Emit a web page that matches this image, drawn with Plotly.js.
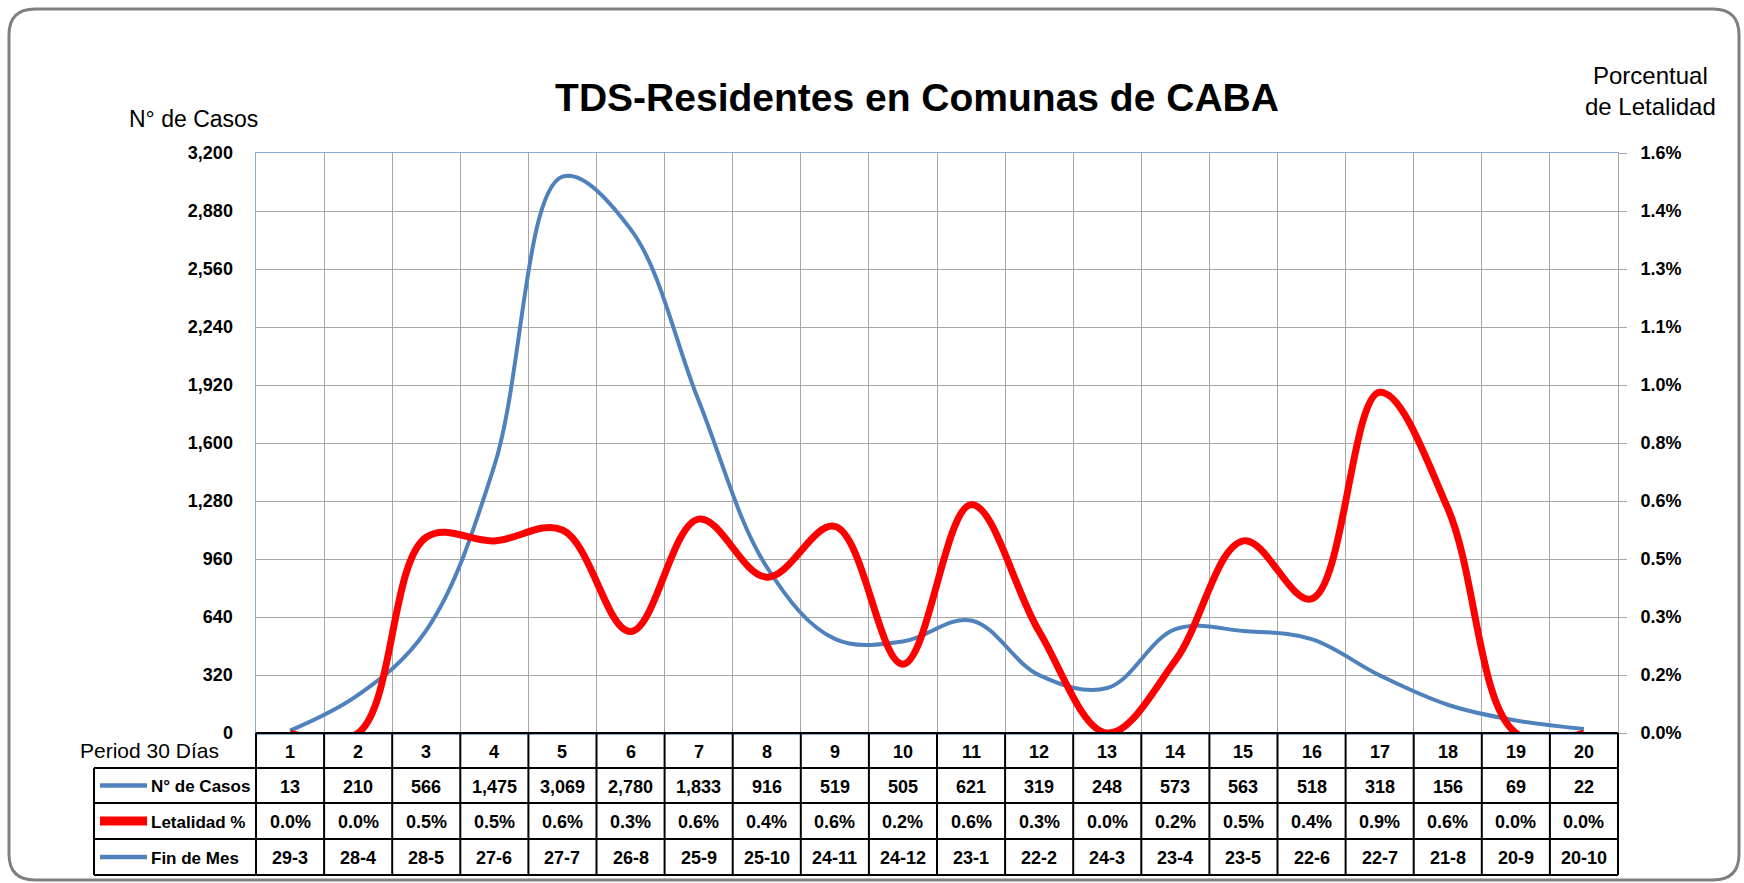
<!DOCTYPE html>
<html>
<head>
<meta charset="utf-8">
<script src="https://cdn.plot.ly/plotly-3.0.1.min.js"></script>
<style>
  html, body { margin: 0; padding: 0; background: #ffffff; }
  #chart { width: 1744px; height: 883px; }
</style>
</head>
<body>
<div id="chart"></div>
<script>
// ---------------- data ----------------
const periods = [1,2,3,4,5,6,7,8,9,10,11,12,13,14,15,16,17,18,19,20];
const casos = [13,210,566,1475,3069,2780,1833,916,519,505,621,319,248,573,563,518,318,156,69,22];
// letalidad in percent (curve; table shows it rounded to 1 decimal)
const letalidad = [0.0,0.0,0.54,0.53,0.56,0.28,0.59,0.43,0.57,0.19,0.63,0.28,0.0,0.2,0.53,0.37,0.94,0.62,0.0,0.0];
const finDeMes = ['29-3','28-4','28-5','27-6','27-7','26-8','25-9','25-10','24-11','24-12','23-1','22-2','24-3','23-4','23-5','22-6','22-7','21-8','20-9','20-10'];
const rowLabels = ['N° de Casos','Letalidad %','Fin de Mes'];
const casosTicks = [0,320,640,960,1280,1600,1920,2240,2560,2880,3200];
const pctTicks = [0,0.0016,0.0032,0.0048,0.0064,0.008,0.0096,0.0112,0.0128,0.0144,0.016];

// ---------------- layout geometry (pixels) ----------------
const W = 1744, H = 883;
const L = 256, R = 1618, T = 153, B = 733;
const xp = px => (px - L) / (R - L);
const yp = py => (B - py) / (B - T);
const rowEdges = [733, 768, 803, 839, 875];
const tableLeft = 94;

const BLUE = '#4f81bd', RED = '#ff0000';
const FONT = 'Liberation Sans, Arial, sans-serif';

const traces = [
  {
    x: periods, y: casos, name: 'N° de Casos', type: 'scatter', mode: 'lines',
    line: {color: BLUE, width: 4, shape: 'spline', smoothing: 1.05},
    yaxis: 'y', hoverinfo: 'x+y'
  },
  {
    x: periods, y: letalidad.map(v => v / 100), name: 'Letalidad %', type: 'scatter', mode: 'lines',
    line: {color: RED, width: 7, shape: 'spline', smoothing: 1.05},
    yaxis: 'y2', hoverinfo: 'x+y'
  }
];

const shapes = [];
const annotations = [];
const black = {color: '#000000', width: 2};

// outer rounded frame
(function () {
  const x0 = 9, y0 = 9, x1 = 1739, y1 = 880, r = 26;
  const P = (x, y) => xp(x).toFixed(5) + ',' + yp(y).toFixed(5);
  const path = 'M' + P(x0 + r, y0) + ' L' + P(x1 - r, y0) + ' Q' + P(x1, y0) + ' ' + P(x1, y0 + r) +
    ' L' + P(x1, y1 - r) + ' Q' + P(x1, y1) + ' ' + P(x1 - r, y1) +
    ' L' + P(x0 + r, y1) + ' Q' + P(x0, y1) + ' ' + P(x0, y1 - r) +
    ' L' + P(x0, y0 + r) + ' Q' + P(x0, y0) + ' ' + P(x0 + r, y0) + ' Z';
  shapes.push({type: 'path', xref: 'paper', yref: 'paper', path: path,
    line: {color: '#808080', width: 3}, fillcolor: 'rgba(0,0,0,0)', layer: 'below'});
})();

// table horizontal lines
shapes.push({type: 'line', xref: 'paper', yref: 'paper', x0: 0, x1: 1, y0: yp(rowEdges[0]), y1: yp(rowEdges[0]), line: black});
for (let i = 1; i < rowEdges.length; i++) {
  shapes.push({type: 'line', xref: 'paper', yref: 'paper', x0: xp(tableLeft), x1: 1,
    y0: yp(rowEdges[i]), y1: yp(rowEdges[i]), line: black});
}
// table vertical lines: edges
shapes.push({type: 'line', xref: 'paper', yref: 'paper', x0: 0, x1: 0, y0: yp(rowEdges[0]), y1: yp(rowEdges[4]), line: black});
shapes.push({type: 'line', xref: 'paper', yref: 'paper', x0: 1, x1: 1, y0: yp(rowEdges[0]), y1: yp(rowEdges[4]), line: black});
shapes.push({type: 'line', xref: 'paper', yref: 'paper', x0: xp(tableLeft), x1: xp(tableLeft), y0: yp(rowEdges[1]), y1: yp(rowEdges[4]), line: black});
// inner column boundaries
for (let i = 0; i < periods.length - 1; i++) {
  const xb = (periods[i] + periods[i + 1]) / 2;
  shapes.push({type: 'line', xref: 'x', yref: 'paper', x0: xb, x1: xb, y0: yp(rowEdges[0]), y1: yp(rowEdges[4]), line: black});
}

// legend samples in label column
const sampleStyles = [{color: BLUE, width: 4.5}, {color: RED, width: 9}, {color: BLUE, width: 4.5}];
for (let r = 0; r < 3; r++) {
  const cy = (rowEdges[r + 1] + rowEdges[r + 2]) / 2;
  shapes.push({type: 'line', xref: 'paper', yref: 'paper', x0: xp(100), x1: xp(147), y0: yp(cy), y1: yp(cy),
    line: sampleStyles[r]});
  annotations.push({xref: 'paper', yref: 'paper', x: xp(149), y: yp(cy + 1), xanchor: 'left', yanchor: 'middle',
    text: '<b>' + rowLabels[r] + '</b>', showarrow: false, font: {family: FONT, size: 17, color: '#000'}});
}

// table cell texts
const cellFont = {family: FONT, size: 18, color: '#000'};
const rowTexts = [
  periods.map(String),
  casos.map(v => v.toLocaleString('en-US')),
  letalidad.map(v => v.toFixed(1) + '%'),
  finDeMes
];
for (let r = 0; r < 4; r++) {
  const cy = (rowEdges[r] + rowEdges[r + 1]) / 2;
  for (let i = 0; i < periods.length; i++) {
    annotations.push({xref: 'x', yref: 'paper', x: periods[i], y: yp(cy + 1), xanchor: 'center', yanchor: 'middle',
      text: '<b>' + rowTexts[r][i] + '</b>', showarrow: false, font: cellFont});
  }
}

// other labels
annotations.push({xref: 'paper', yref: 'paper', x: xp(221), y: yp(750), xanchor: 'right', yanchor: 'middle',
  text: 'Period 30 Días', showarrow: false, font: {family: FONT, size: 21, color: '#000'}});
annotations.push({xref: 'paper', yref: 'paper', x: xp(193), y: yp(119), xanchor: 'center', yanchor: 'middle',
  text: 'N° de Casos', showarrow: false, font: {family: FONT, size: 23, color: '#000'}});
annotations.push({xref: 'paper', yref: 'paper', x: xp(1650), y: yp(91), xanchor: 'center', yanchor: 'middle',
  text: 'Porcentual<br>de Letalidad', showarrow: false, align: 'center', font: {family: FONT, size: 24, color: '#000'}});

const layout = {
  width: W, height: H,
  margin: {l: L, r: W - R, t: T, b: H - B, pad: 0},
  paper_bgcolor: '#ffffff', plot_bgcolor: '#ffffff',
  showlegend: false,
  title: {
    text: '<b>TDS-Residentes en Comunas de CABA</b>',
    font: {family: FONT, size: 39, color: '#000'},
    xref: 'paper', x: xp(917), xanchor: 'center',
    yref: 'container', y: 1 - 97 / H, yanchor: 'middle'
  },
  xaxis: {
    range: [0.5, 20.5], tickvals: periods.map(p => p - 0.5).concat([periods[periods.length - 1] + 0.5]),
    showticklabels: false, ticks: '', showgrid: true, gridcolor: '#a6a6a6', gridwidth: 1,
    zeroline: false, showline: true, linecolor: '#86a8d6', linewidth: 1.5, mirror: true, fixedrange: true
  },
  yaxis: {
    range: [0, 3200], tickvals: casosTicks, tickformat: ',d', ticks: 'outside', ticklen: 18,
    tickcolor: 'rgba(0,0,0,0)', showgrid: true, gridcolor: '#a6a6a6', gridwidth: 1, zeroline: false,
    showline: true, linecolor: '#86a8d6', linewidth: 1.5,
    tickfont: {family: FONT, size: 18, color: '#000', weight: 'bold'}, fixedrange: true
  },
  yaxis2: {
    range: [0, 0.016], overlaying: 'y', side: 'right', tickvals: pctTicks, tickformat: '.1%',
    ticks: 'outside', ticklen: 8, tickcolor: '#a6a6a6', tickwidth: 1, ticklabelstandoff: 10,
    showgrid: false, zeroline: false, showline: true, linecolor: '#a6a6a6', linewidth: 1,
    tickfont: {family: FONT, size: 18, color: '#000', weight: 'bold'}, fixedrange: true
  },
  shapes: shapes,
  annotations: annotations
};

Plotly.newPlot('chart', traces, layout, {displayModeBar: false, staticPlot: true});
</script>
</body>
</html>
